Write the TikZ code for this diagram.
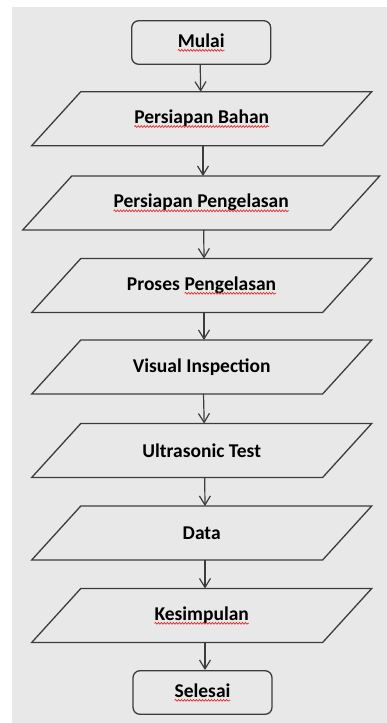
\documentclass[tikz,border=0pt]{standalone}
\usepackage{fontspec}
\setmainfont{Carlito}
\usetikzlibrary{arrows.meta,decorations.pathmorphing}
\definecolor{bg}{RGB}{232,232,232}
\definecolor{ln}{RGB}{60,60,60}
\definecolor{sq}{RGB}{225,45,45}
\newcommand\sqw[1]{\tikz[baseline=(sqwn.base)]{\node[shape=rectangle,draw=none,fill=none,inner sep=0pt,outer sep=0pt,minimum width=0pt,minimum height=0pt,anchor=base] (sqwn) {#1};\draw[sq,line width=0.7pt,rounded corners=0pt,decorate,decoration={snake,amplitude=0.9pt,segment length=3pt}] ([yshift=-3.2pt]sqwn.base west) -- ([yshift=-3.2pt]sqwn.base east);}}
\tikzset{
  txt/.style={font=\fontsize{19.5}{22}\selectfont\bfseries, inner sep=0pt},
  term/.style={txt, draw=ln, line width=1.3pt, rounded corners=7pt, minimum width=139pt, minimum height=43.6pt},
  io/.style={txt, minimum width=290.5pt, minimum height=53.5pt},
  shp/.style={draw=ln, line width=1.3pt, line join=miter},
  arr/.style={draw=ln, line width=1.2pt, -{Straight Barb[length=9pt,width=11pt]}}
}
\begin{document}
\begin{tikzpicture}[x=1pt,y=1pt]
\useasboundingbox (0,0) rectangle (387,-723);
\fill[bg] (12,-7) rectangle (387,-723);
\node[term] (mulai) at (201.2,-42.5) {\sqw{Mulai}};
\node[io] (pb) at (201.7,-118.7) {\sqw{Persiapan Bahan}};
\node[io, minimum width=307.5pt] (pp) at (201.2,-203) {\sqw{Persiapan Pengelasan}};
\node[io] (pr) at (201.7,-285.5) {Proses \sqw{Pengelasan}};
\node[io] (vi) at (201.7,-367) {Visual Inspection};
\node[io] (ut) at (201.7,-450.5) {Ultrasonic Test};
\node[io] (da) at (201.7,-533) {Data};
\node[io] (ke) at (201.7,-615.5) {\sqw{Kesimpulan}};
\node[term] (se) at (202.5,-692.5) {\sqw{Selesai}};
\foreach \n in {pb,pp,pr,vi,ut,da,ke}
  \draw[shp] ([xshift=-24.5pt]\n.south west) -- ([xshift=24.5pt]\n.north west) -- ([xshift=24.5pt]\n.north east) -- ([xshift=-24.5pt]\n.south east) -- cycle;
\draw[arr] ([xshift=-1pt]mulai.south) -- ([xshift=-1pt]pb.north);
\draw[arr] ([xshift=1.3pt]pb.south) -- ([xshift=1.8pt]pp.north);
\draw[arr] ([xshift=2.5pt]pp.south) -- ([xshift=2.3pt]pr.north);
\draw[arr] ([xshift=2.3pt]pr.south) -- ([xshift=2.3pt]vi.north);
\draw[arr] ([xshift=1.8pt]vi.south) -- ([xshift=2.5pt]ut.north);
\draw[arr] ([xshift=3pt]ut.south) -- ([xshift=3.3pt]da.north);
\draw[arr] ([xshift=3.3pt]da.south) -- ([xshift=3.3pt]ke.north);
\draw[arr] ([xshift=3.3pt]ke.south) -- ([xshift=2.5pt]se.north);
\end{tikzpicture}
\end{document}
